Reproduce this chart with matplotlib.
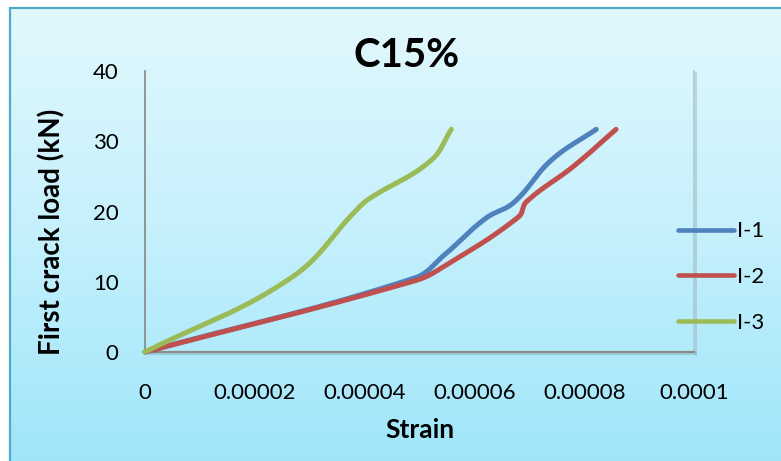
import numpy as np
import matplotlib
matplotlib.use("Agg")
import matplotlib.pyplot as plt
import matplotlib.patheffects as pe
from matplotlib.patches import Rectangle
from matplotlib.colors import LinearSegmentedColormap

# ---- data -------------------------------------------------------------
series_names = ["I-1", "I-2", "I-3"]
series_colors = ["#4F81BD", "#C0504D", "#9BBB59"]

i1_strain = [0, 4.9e-5, 5.45e-5, 6.2e-5, 6.72e-5, 7.4e-5, 8.22e-5]
i1_load = [0, 10.5, 13.8, 19.0, 21.3, 27.3, 31.7]

i2_strain = [0, 4.9e-5, 5.45e-5, 6.8e-5, 6.95e-5, 7.8e-5, 8.58e-5]
i2_load = [0, 10.1, 12.2, 19.2, 21.4, 26.4, 31.7]

i3_strain = [0, 2.65e-5, 3.85e-5, 4.08e-5, 5.2e-5, 5.58e-5]
i3_load = [0, 10.5, 20.2, 21.8, 27.2, 31.7]

x_ticks = [0, 2e-5, 4e-5, 6e-5, 8e-5, 1e-4]
x_tick_labels = ["0", "0.00002", "0.00004", "0.00006", "0.00008", "0.0001"]
y_ticks = [0, 10, 20, 30, 40]
y_tick_labels = ["0", "10", "20", "30", "40"]

title = "C15%"
x_label = "Strain"
y_label = "First crack load (kN)"

# ---- figure -----------------------------------------------------------
W, H, DPI = 781, 461, 100
fig = plt.figure(figsize=(W / DPI, H / DPI), dpi=DPI)
fig.patch.set_facecolor("white")

# gradient chart area with a teal frame
bg = fig.add_axes([10 / W, -0.02, 1.0, 1 - 8 / H + 0.02], zorder=0)
grad = np.linspace(0, 1, 256).reshape(-1, 1)
cmap = LinearSegmentedColormap.from_list("chartbg", ["#e2f8fd", "#c4f0fc", "#9ee5fa"])
bg.imshow(grad, aspect="auto", cmap=cmap, extent=[0, 1, 0, 1], origin="upper")
bg.set_axis_off()
fig.patches.append(Rectangle((10 / W, -0.05), 1.0, 1 - 8 / H + 0.05,
                             transform=fig.transFigure, fill=False,
                             edgecolor="#4bacc6", linewidth=1.6, zorder=1))

ax_left, ax_right = 145 / W, 694 / W
ax_bottom, ax_top = 1 - 352 / H, 1 - 71 / H
ax = fig.add_axes([ax_left, ax_bottom, ax_right - ax_left, ax_top - ax_bottom], zorder=2)
ax.set_facecolor("none")
ax.set_xlim(0, 1e-4)
ax.set_ylim(0, 40)

ax_w_px = (ax_right - ax_left) * W
ax_h_px = (ax_top - ax_bottom) * H


def smooth_curve(xs, ys, n=40, tension=0.4):
    """Bezier smoothing through the points, computed in screen space.

    Tangent directions follow the neighbouring points; handle lengths are
    tied to each segment's own length so short segments never overshoot.
    """
    px = np.asarray(xs) / 1e-4 * ax_w_px
    py = np.asarray(ys) / 40.0 * ax_h_px
    pts = np.column_stack([px, py])
    m = len(pts)
    tangents = np.zeros_like(pts)
    for i in range(m):
        a = pts[max(i - 1, 0)]
        b = pts[min(i + 1, m - 1)]
        d = b - a
        nrm = np.hypot(*d)
        tangents[i] = d / nrm if nrm > 0 else 0
    out = [pts[0]]
    t = np.linspace(0, 1, n)[1:, None]
    for i in range(m - 1):
        p1, p2 = pts[i], pts[i + 1]
        seg_len = np.hypot(*(p2 - p1))
        c1 = p1 + tangents[i] * seg_len * tension
        c2 = p2 - tangents[i + 1] * seg_len * tension
        seg = ((1 - t) ** 3) * p1 + 3 * ((1 - t) ** 2) * t * c1 + 3 * (1 - t) * t ** 2 * c2 + t ** 3 * p2
        out.extend(seg)
    out = np.array(out)
    return out[:, 0] / ax_w_px * 1e-4, out[:, 1] / ax_h_px * 40.0


for xs, ys, name, col in [(i1_strain, i1_load, series_names[0], series_colors[0]),
                          (i2_strain, i2_load, series_names[1], series_colors[1]),
                          (i3_strain, i3_load, series_names[2], series_colors[2])]:
    sx, sy = smooth_curve(xs, ys)
    ax.plot(sx, sy, color=col, lw=3.6, solid_capstyle="round",
            solid_joinstyle="round", label=name, zorder=3, clip_on=False)

# axes frame
ax.spines["top"].set_visible(False)
ax.spines["left"].set_color("#868686")
ax.spines["left"].set_linewidth(1.2)
ax.spines["bottom"].set_color("#8a8a8a")
ax.spines["bottom"].set_linewidth(1.6)
ax.spines["right"].set_color("#b3cdd5")
ax.spines["right"].set_linewidth(1.4)
shadow = [pe.SimpleLineShadow(offset=(1.5, -1.5), shadow_color="#6f8f99", alpha=0.3), pe.Normal()]
ax.spines["bottom"].set_path_effects(shadow)
ax.spines["right"].set_path_effects(shadow)

tick_font = dict(family="Lato", size=16, color="black")
ax.set_xticks(x_ticks)
ax.set_xticklabels(x_tick_labels, fontdict=tick_font)
ax.set_yticks(y_ticks)
ax.set_yticklabels(y_tick_labels, fontdict=tick_font)
ax.tick_params(axis="both", length=0)
ax.tick_params(axis="x", pad=22)
ax.tick_params(axis="y", pad=19)

fig.text(407 / W, 1 - 67 / H, title, ha="center", va="baseline",
         family="Lato", fontweight="bold", fontsize=29)
fig.text(420 / W, 1 - 430 / H, x_label, ha="center", va="center",
         family="Lato", fontweight="bold", fontsize=19)
fig.text(52 / W, 1 - 232 / H, y_label, ha="center", va="center", rotation=90,
         family="Lato", fontweight="bold", fontsize=20)

leg = ax.legend(loc="center left", bbox_to_anchor=(678 / W, 1 - 277 / H),
                bbox_transform=fig.transFigure, frameon=False,
                prop=dict(family="Lato", size=16), handlelength=2.5,
                handletextpad=0.15, labelspacing=1.15, borderpad=0, borderaxespad=0)
for line in leg.get_lines():
    line.set_linewidth(3.3)
    line.set_solid_capstyle("round")

fig.savefig("out.png", dpi=DPI)
